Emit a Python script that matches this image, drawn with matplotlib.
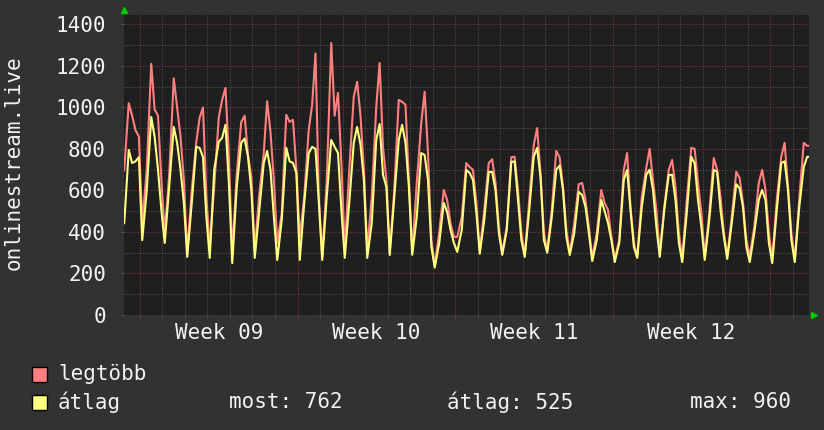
import matplotlib
matplotlib.use("Agg")
import matplotlib.pyplot as plt
from matplotlib.patches import Rectangle
import numpy as np

# ---------------- data ----------------
first_day = -1                      # day index of first block (day 0 = Monday of Week 09)
day_offsets = [0.10, 0.30, 0.50, 0.65, 0.80, 0.95]   # sample times within each day

legtobb = [  # red series, 6 samples per day, days -1 .. 29
    650, 700, 1020, 960, 890, 860,
    443, 700, 1210, 990, 960, 650,
    395, 680, 1140, 1000, 860, 650,
    299, 600, 830, 950, 1000, 570,
    328, 620, 950, 1036, 1094, 760,
    299, 680, 930, 960, 770, 665,
    313, 580, 780, 1030, 880, 650,
    347, 490, 964, 930, 940, 700,
    376, 570, 892, 1012, 1260, 560,
    280, 650, 1310, 960, 1070, 730,
    313, 699, 1051, 1123, 960, 699,
    313, 569, 1002, 1214, 810, 650,
    299, 602, 1036, 1027, 1012, 650,
    304, 636, 925, 1075, 780, 361,
    240, 400, 602, 554, 443, 376,
    376, 472, 732, 713, 699, 540,
    310, 506, 732, 750, 636, 424,
    300, 424, 760, 762, 602, 395,
    290, 554, 819, 900, 684, 395,
    310, 506, 790, 760, 617, 410,
    299, 443, 630, 636, 554, 424,
    275, 395, 602, 540, 506, 376,
    270, 361, 699, 780, 520, 347,
    280, 569, 708, 800, 650, 506,
    299, 520, 699, 747, 617, 395,
    270, 554, 805, 800, 636, 492,
    280, 492, 756, 700, 569, 395,
    285, 472, 690, 660, 540, 361,
    285, 424, 636, 699, 602, 395,
    270, 554, 762, 829, 617, 395,
    265, 560, 829, 815, 815, 815,
]

atlag = [  # yellow series, 6 samples per day, days -1 .. 29
    420, 443, 795, 732, 740, 760,
    361, 600, 954, 858, 700, 506,
    347, 620, 906, 829, 700, 540,
    280, 540, 810, 805, 760, 472,
    275, 700, 834, 853, 916, 636,
    250, 617, 830, 850, 762, 600,
    275, 506, 732, 790, 699, 472,
    265, 458, 805, 740, 732, 684,
    265, 540, 780, 810, 800, 540,
    265, 569, 843, 810, 780, 506,
    275, 540, 829, 906, 820, 650,
    275, 443, 843, 920, 675, 617,
    289, 569, 843, 916, 829, 617,
    290, 472, 780, 771, 650, 328,
    228, 347, 540, 496, 410, 347,
    304, 410, 699, 684, 650, 492,
    295, 458, 689, 689, 602, 395,
    290, 410, 737, 740, 554, 361,
    280, 506, 762, 805, 665, 361,
    300, 472, 700, 720, 602, 376,
    289, 395, 593, 578, 520, 395,
    260, 361, 554, 500, 443, 361,
    255, 347, 650, 699, 506, 328,
    275, 520, 675, 700, 602, 424,
    280, 506, 675, 675, 554, 347,
    255, 492, 762, 730, 554, 424,
    265, 458, 699, 690, 506, 376,
    270, 443, 630, 610, 520, 328,
    255, 395, 554, 602, 554, 347,
    250, 506, 732, 740, 602, 361,
    255, 520, 713, 762, 762, 762,
]

week_labels = ["Week 09", "Week 10", "Week 11", "Week 12"]
week_starts = [0, 7, 14, 21, 28]
series_names = ["legtöbb", "átlag"]
stat_texts = ["most: 762", "átlag: 525", "max: 960"]
y_ticks = [0, 200, 400, 600, 800, 1000, 1200, 1400]
x_range = (-0.711, 29.733)
y_range = (0, 1445)
ylabel = "onlinestream.live"

# ---------------- style ----------------
W, H = 824, 430
BG = "#323232"
PLOT_BG = "#1f1f1f"
RED = "#ff7f7f"
YEL = "#ffff7f"
TXT = "#f2f2f2"
FONT = "DejaVu Sans Mono"
FS = 15

n_days = len(legtobb) // len(day_offsets)
times = np.array([first_day + d + o for d in range(n_days) for o in day_offsets])

fig = plt.figure(figsize=(W / 100, H / 100), dpi=100, facecolor=BG)

def fx(px):
    return px / W

def fy(py):
    return 1 - py / H

L, R, T, B = 124, 809, 15, 315
ax = fig.add_axes([fx(L), fy(B), (R - L) / W, (B - T) / H])
ax.set_facecolor(PLOT_BG)

ax.set_xlim(*x_range)
ax.set_ylim(*y_range)

# grids
dot = (0, (1.0, 1.4))
ax.set_xticks(week_starts)
ax.set_xticks(np.arange(0, 30, 1), minor=True)
ax.set_yticks(y_ticks)
ax.set_yticks(np.arange(100, 1500, 200), minor=True)
ax.grid(which="minor", color="#4f4f4f", linestyle=dot, linewidth=0.8)
ax.grid(which="major", color="#7a3535", linestyle=dot, linewidth=0.8)
ax.set_axisbelow(True)

ax.tick_params(axis="x", which="major", length=3, color="#7a3535", labelbottom=False)
ax.tick_params(axis="x", which="minor", length=2, color="#4f4f4f")
ax.tick_params(axis="y", which="major", length=2, color="#4f4f4f", labelsize=FS,
               labelcolor=TXT, pad=11)
ax.tick_params(axis="y", which="minor", length=0)
for lbl in ax.get_yticklabels():
    lbl.set_fontfamily(FONT)
for s in ax.spines.values():
    s.set_visible(False)

# lines
ax.plot(times, legtobb, color=RED, linewidth=1.5, zorder=3)
ax.plot(times, atlag, color=YEL, linewidth=1.5, zorder=4)

# week labels at mid-week
for i, lab in enumerate(week_labels):
    mid = week_starts[i] + 3.5
    ax.annotate(lab, xy=(mid, 0), xycoords=("data", "axes fraction"),
                xytext=(0, -8), textcoords="offset pixels",
                ha="center", va="top", color=TXT, fontsize=FS, family=FONT)

# arrows
ax.plot([0], [1.018], marker="^", color="#00cc00", markersize=4.5,
        transform=ax.transAxes, clip_on=False)
ax.plot([1.008], [0], marker=">", color="#00cc00", markersize=4.5,
        transform=ax.transAxes, clip_on=False)

# y label
fig.text(fx(14), fy(163), ylabel, rotation=90, ha="center", va="center",
         color=TXT, fontsize=FS, family=FONT)

# legend
for i, (name, col) in enumerate(zip(series_names, [RED, YEL])):
    yc = 374 + 28 * i
    fig.patches.append(Rectangle((fx(32), fy(yc + 7.5)), 15 / W, 15 / H,
                                 transform=fig.transFigure, facecolor=col,
                                 edgecolor="black", linewidth=1.0))
    fig.text(fx(58), fy(yc), name, ha="left", va="center", color=TXT,
             fontsize=FS, family=FONT)

fig.text(fx(229), fy(402), stat_texts[0], ha="left", va="center", color=TXT,
         fontsize=FS, family=FONT)
fig.text(fx(447), fy(402), stat_texts[1], ha="left", va="center", color=TXT,
         fontsize=FS, family=FONT)
fig.text(fx(791), fy(402), stat_texts[2], ha="right", va="center", color=TXT,
         fontsize=FS, family=FONT)

fig.savefig("out.png", dpi=100, facecolor=BG)
